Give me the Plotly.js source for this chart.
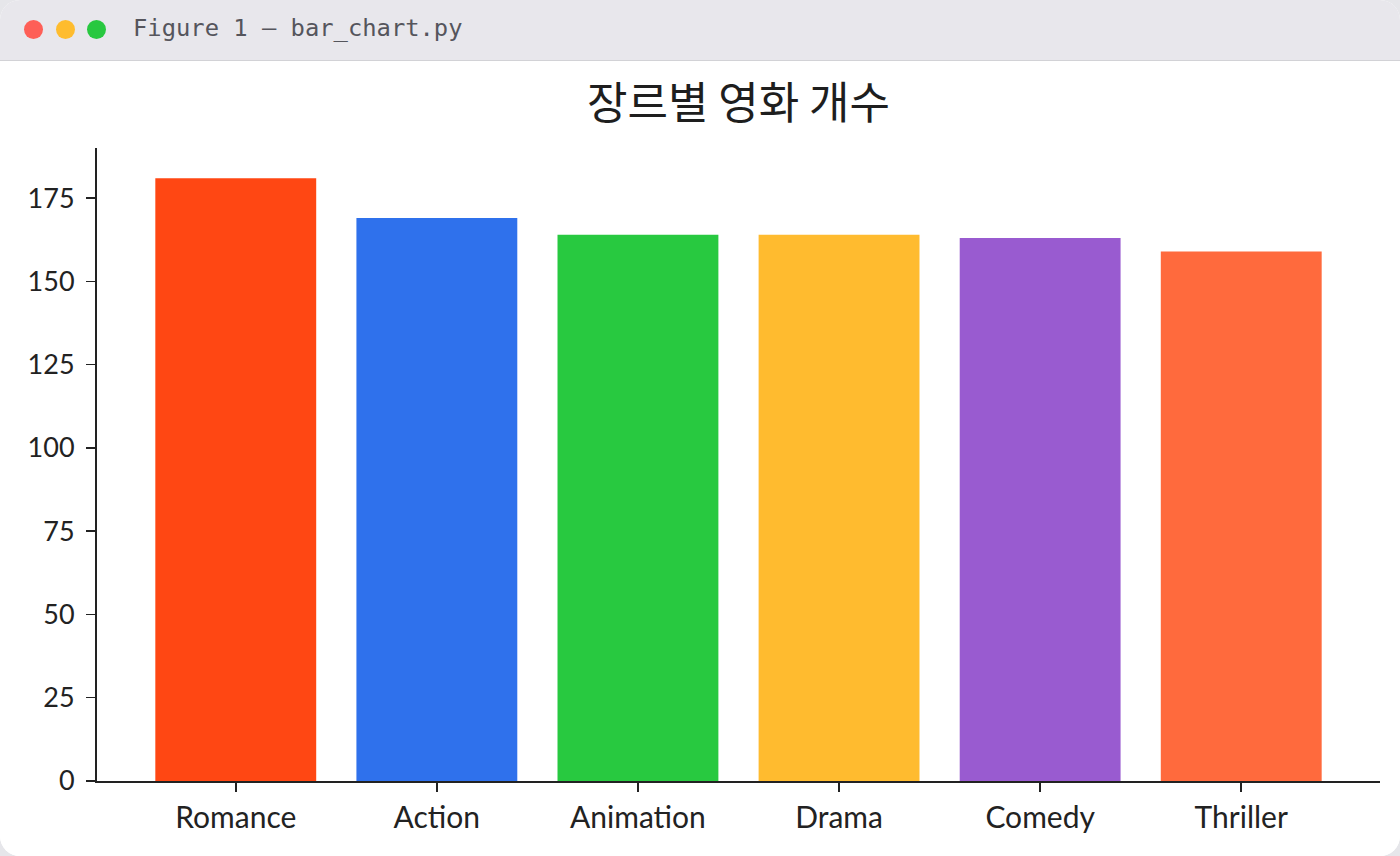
<!DOCTYPE html>
<html>
<head>
<meta charset="utf-8">
<script src="https://cdn.plot.ly/plotly-3.0.1.min.js"></script>
<style>
  html, body { margin: 0; padding: 0; background: #e6e6ea; }
  #win {
    position: absolute; left: 0; top: 0; width: 1400px; height: 856px;
    background: #ffffff; border-radius: 20px; overflow: hidden;
  }
  #bar {
    position: absolute; left: 0; top: 0; width: 1400px; height: 60px;
    background: #e8e7ec; border-bottom: 1.5px solid #d2d2d6;
  }
  .dot { position: absolute; top: 20px; width: 19px; height: 19px; border-radius: 50%; }
  #caption {
    position: absolute; left: 133px; top: 14px;
    font-family: "DejaVu Sans Mono", "Liberation Mono", monospace;
    font-size: 23.8px; color: #55555c;
  }
  #chart { position: absolute; left: 0; top: 61px; width: 1400px; height: 795px; }
</style>
</head>
<body>
<div id="win">
  <div id="bar">
    <div class="dot" style="left:24px;background:#fe5f57"></div>
    <div class="dot" style="left:56px;background:#febc2e"></div>
    <div class="dot" style="left:87px;background:#28c840"></div>
    <div id="caption">Figure 1 — bar_chart.py</div>
  </div>
  <div id="chart"></div>
</div>
<script>
  // ── data ─────────────────────────────────────────────────────────────────
  const genres = ['Romance', 'Action', 'Animation', 'Drama', 'Comedy', 'Thriller'];
  const counts = [181, 169, 164, 164, 163, 159];
  const barColors = ['#ff4713', '#2f71ec', '#28c940', '#ffbb2f', '#995bd0', '#ff6a3d'];
  const yTicks = [0, 25, 50, 75, 100, 125, 150, 175];
  const chartTitle = '장르별 영화 개수';

  const FONT = 'Lato, "Noto Sans CJK KR", sans-serif';

  const trace = {
    type: 'bar',
    x: genres.map(function (_, i) { return i; }),
    y: counts,
    width: 0.8,
    marker: { color: barColors, line: { width: 0 } },
    hoverinfo: 'x+y',
  };

  const axisCommon = {
    showgrid: false,
    zeroline: false,
    showline: true,
    linecolor: '#222222',
    linewidth: 2,
    ticks: 'outside',
    ticklen: 9,
    tickwidth: 1.5,
    tickcolor: '#222222',
  };

  const layout = {
    width: 1400,
    height: 795,
    paper_bgcolor: '#ffffff',
    plot_bgcolor: '#ffffff',
    margin: { t: 87, r: 20, b: 75, l: 97 },
    showlegend: false,
    title: {
      text: chartTitle,
      font: { family: '"Noto Sans CJK KR", sans-serif', size: 44, color: '#1e1e1e' },
      xref: 'paper', x: 0.5, xanchor: 'center',
      yref: 'container', y: 1 - 43 / 795, yanchor: 'middle',
    },
    xaxis: Object.assign({}, axisCommon, {
      range: [-0.69, 5.69],
      tickmode: 'array',
      tickvals: genres.map(function (_, i) { return i; }),
      ticktext: genres,
      ticklabelstandoff: 0,
      tickfont: { family: FONT, size: 30, color: '#222222' },
    }),
    yaxis: Object.assign({}, axisCommon, {
      range: [0, 190.05],
      tickmode: 'array',
      tickvals: yTicks,
      ticktext: yTicks.map(String),
      ticklabelstandoff: 6,
      tickfont: { family: FONT, size: 27, color: '#222222' },
    }),
  };

  Plotly.newPlot('chart', [trace], layout, { displayModeBar: false, staticPlot: true });
</script>
</body>
</html>
